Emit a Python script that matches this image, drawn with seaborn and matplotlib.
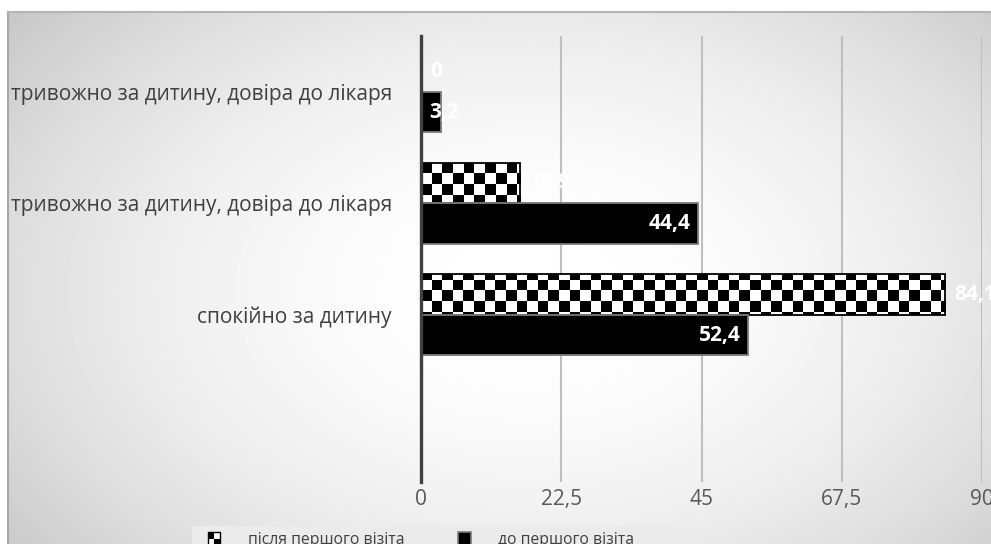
import numpy as np
import pandas as pd
import matplotlib
matplotlib.use("Agg")
import matplotlib.pyplot as plt
import seaborn as sns
from matplotlib.patches import Rectangle
from matplotlib.colors import ListedColormap
from matplotlib.legend_handler import HandlerBase

# ---- data -------------------------------------------------------------
categories = [
    "тривожно за дитину, довіра до лікаря",
    "тривожно за дитину, довіра до лікаря",
    "спокійно за дитину",
]
series_names = ["після першого візіта", "до першого візіта"]
after_visit = [0, 15.9, 84.1]
before_visit = [3.2, 44.4, 52.4]
x_ticks = [0, 22.5, 45, 67.5, 90]
x_tick_labels = ["0", "22,5", "45", "67,5", "90"]

sns.set_theme(style="white")
plt.rcParams["font.family"] = ["Open Sans", "DejaVu Sans"]

W, H = 991, 544
fig = plt.figure(figsize=(W / 100, H / 100), dpi=100, facecolor="white")

# ---- background panel with a soft radial gradient ----------------------
bg = fig.add_axes([8 / W, 0, (W - 8) / W, (H - 12) / H], zorder=-10)
yy, xx = np.mgrid[12:H, 8:W].astype(float)
r2 = ((xx - 530) / 500) ** 2 + ((yy - 290) / 330) ** 2
shade = 255 - 57 * np.clip(r2 / 1.81, 0, 1.1)
bg.imshow(shade, cmap="gray", vmin=0, vmax=255, aspect="auto",
          interpolation="bilinear")
bg.set_xticks([])
bg.set_yticks([])
for side in ("right", "bottom"):
    bg.spines[side].set_visible(False)
bg.spines["left"].set_color("#a8a8a8")
bg.spines["left"].set_linewidth(1.5)
bg.spines["top"].set_color("#b4b4b4")
bg.spines["top"].set_linewidth(1.5)

# legend area
fig.patches.append(Rectangle((192 / W, 0), (707 - 192) / W, 18 / H,
                             transform=fig.transFigure, facecolor="#ebebeb",
                             edgecolor="none", zorder=-5))

# ---- main axes ---------------------------------------------------------
ax = fig.add_axes([421 / W, 1 - 482 / H, 561 / W, 446 / H])
ax.patch.set_alpha(0)

n = len(categories)
df = pd.DataFrame({
    "pos": list(range(n)) * 2,
    "value": after_visit + before_visit,
    "series": [series_names[0]] * n + [series_names[1]] * n,
})

sns.barplot(data=df, x="value", y="pos", hue="series", hue_order=series_names,
            order=list(range(n + 1)), orient="h", palette=["white", "black"],
            saturation=1, width=0.73, legend=False, ax=ax)

after_bars = ax.containers[0]
before_bars = ax.containers[1]

for bar in before_bars:
    bar.set_facecolor("black")
    bar.set_edgecolor("#7a7a7a")
    bar.set_linewidth(1.3)
    bar.set_zorder(2)

# checkerboard fill for the "після" bars
cell = 10.6
ncols = int(np.ceil(561 / cell))
nrows = int(np.ceil(446 / cell))
board = np.add.outer(np.arange(nrows), np.arange(ncols)) % 2
ext = (0, ncols * cell / 561, 1 - nrows * cell / 446, 1)
for bar in after_bars:
    bar.set_facecolor("none")
    bar.set_edgecolor("black")
    bar.set_linewidth(1.3)
    bar.set_zorder(2)
    im = ax.imshow(board, cmap=ListedColormap(["black", "white"]),
                   extent=ext, transform=ax.transAxes, aspect="auto",
                   interpolation="nearest", zorder=1.5)
    im.set_clip_path(bar)

ax.set_xlim(0, 90)
ax.set_ylim(n + 0.5, -0.5)
ax.set_xticks(x_ticks)
ax.set_xticklabels(x_tick_labels)
ax.set_yticks(list(range(n + 1)))
ax.set_yticklabels(categories + [""])
ax.set_xlabel("")
ax.set_ylabel("")

ax.set_axisbelow(True)
ax.grid(axis="x", color="#bfbfbf", linewidth=1.5)
ax.grid(axis="y", visible=False)
for side in ("top", "right", "bottom"):
    ax.spines[side].set_visible(False)
ax.spines["left"].set_color("#404040")
ax.spines["left"].set_linewidth(2.4)
ax.spines["left"].set_zorder(3)

ax.tick_params(axis="x", length=0, pad=5, labelsize=15, labelcolor="#595959")
ax.tick_params(axis="y", length=0, pad=21, labelsize=15, labelcolor="#404040")


def fmt(v):
    return str(int(v)) if v == int(v) else f"{v:.1f}".replace(".", ",")


# value labels
for bar, v in zip(after_bars, after_visit):
    yc = bar.get_y() + bar.get_height() / 2
    ax.annotate(fmt(v), (v, yc), xytext=(6.5, 0), textcoords="offset points",
                ha="left", va="center", color="white", fontsize=15,
                fontweight="bold", zorder=4, annotation_clip=False)

for bar, v in zip(before_bars, before_visit):
    yc = bar.get_y() + bar.get_height() / 2
    if v >= 10:
        ax.annotate(fmt(v), (v, yc), xytext=(-5, 0), textcoords="offset points",
                    ha="right", va="center", color="white", fontsize=15,
                    fontweight="bold", zorder=4)
    else:
        ax.annotate(fmt(v), (0, yc), xytext=(6, 0), textcoords="offset points",
                    ha="left", va="center", color="white", fontsize=15,
                    fontweight="bold", zorder=4)


# ---- legend ------------------------------------------------------------
class CheckerHandler(HandlerBase):
    def create_artists(self, legend, orig_handle, xdescent, ydescent,
                       width, height, fontsize, trans):
        s = min(width, height)
        x0 = -xdescent + (width - s) / 2
        y0 = -ydescent + (height - s) / 2
        h = s / 2
        arts = []
        for i in range(2):
            for j in range(2):
                c = "black" if (i + j) % 2 == 0 else "white"
                arts.append(Rectangle((x0 + j * h, y0 + (1 - i) * h), h, h,
                                      facecolor=c, edgecolor="none",
                                      transform=trans))
        arts.append(Rectangle((x0, y0), s, s, facecolor="none",
                              edgecolor="black", linewidth=1, transform=trans))
        return arts


class SolidHandler(HandlerBase):
    def create_artists(self, legend, orig_handle, xdescent, ydescent,
                       width, height, fontsize, trans):
        s = min(width, height)
        x0 = -xdescent + (width - s) / 2
        y0 = -ydescent + (height - s) / 2
        return [Rectangle((x0, y0), s, s, facecolor="black",
                          edgecolor="#7a7a7a", linewidth=1.2, transform=trans)]


h_after = Rectangle((0, 0), 1, 1)
h_before = Rectangle((0, 0), 1, 1, facecolor="black")
leg = fig.legend([h_after, h_before], series_names, loc="center",
                 bbox_to_anchor=(421 / W, 1 - 540 / H), ncol=2, frameon=False,
                 fontsize=11.3, labelcolor="#404040", handlelength=0.83,
                 handleheight=0.83, handletextpad=1.75, columnspacing=3.4,
                 handler_map={h_after: CheckerHandler(),
                              h_before: SolidHandler()})

fig.savefig("out.png", dpi=100, facecolor="white")
